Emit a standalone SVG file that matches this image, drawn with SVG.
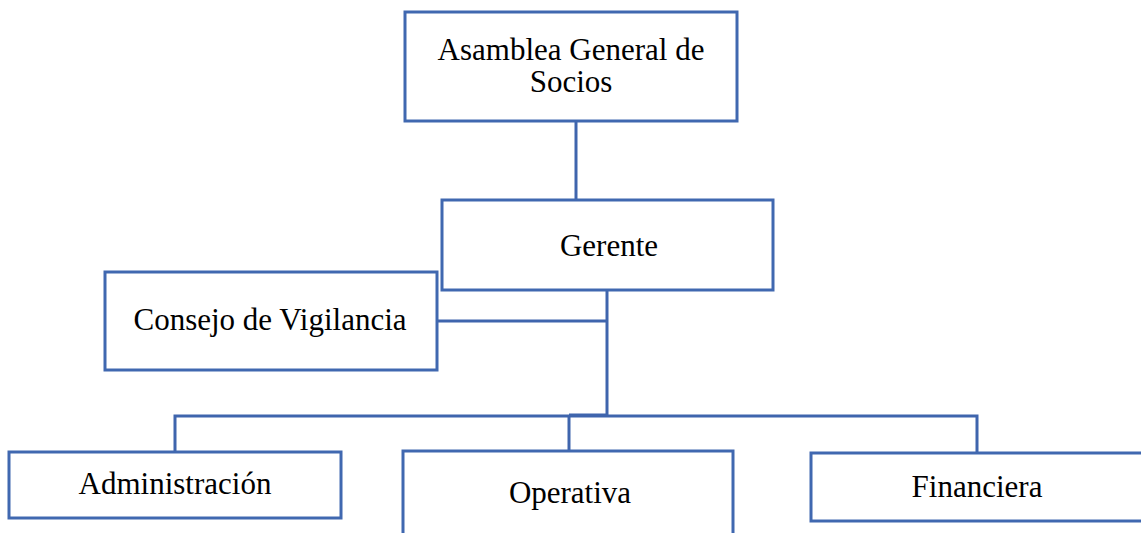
<svg xmlns="http://www.w3.org/2000/svg" width="1141" height="533" viewBox="0 0 1141 533">
<style>
.box{fill:#fff;stroke:#4068B0;stroke-width:3}
.ln{fill:none;stroke:#3F65AD;stroke-width:3}
.t{font-family:"Liberation Serif","Times New Roman",serif;font-size:31px;fill:#000;text-anchor:middle}
</style>
<rect width="1141" height="533" fill="#fff"/>
<g id="connectors">
<path class="ln" d="M576,122 V200"/>
<path class="ln" d="M607,290 V417"/>
<path class="ln" d="M437,321 H607"/>
<path class="ln" d="M175,452 V416 H977 V453"/>
<path class="ln" d="M569,416 V451"/>
<path class="ln" d="M569,415 H607" stroke-width="4"/>
</g>
<g id="asamblea">
<rect class="box" x="405" y="12" width="332" height="109"/>
<text class="t" x="571" y="60">Asamblea General de</text>
<text class="t" x="571" y="92">Socios</text>
</g>
<g id="gerente">
<rect class="box" x="442" y="200" width="331" height="90"/>
<text class="t" x="609" y="256">Gerente</text>
</g>
<g id="consejo">
<rect class="box" x="105" y="272" width="332" height="98"/>
<text class="t" x="270" y="330">Consejo de Vigilancia</text>
</g>
<g id="administracion">
<rect class="box" x="9" y="452" width="332" height="66"/>
<text class="t" x="175" y="494">Administración</text>
</g>
<g id="operativa">
<rect class="box" x="403" y="451" width="330" height="90"/>
<text class="t" x="570" y="503">Operativa</text>
</g>
<g id="financiera">
<rect class="box" x="811" y="453" width="340" height="68"/>
<text class="t" x="977" y="497">Financiera</text>
</g>
</svg>
